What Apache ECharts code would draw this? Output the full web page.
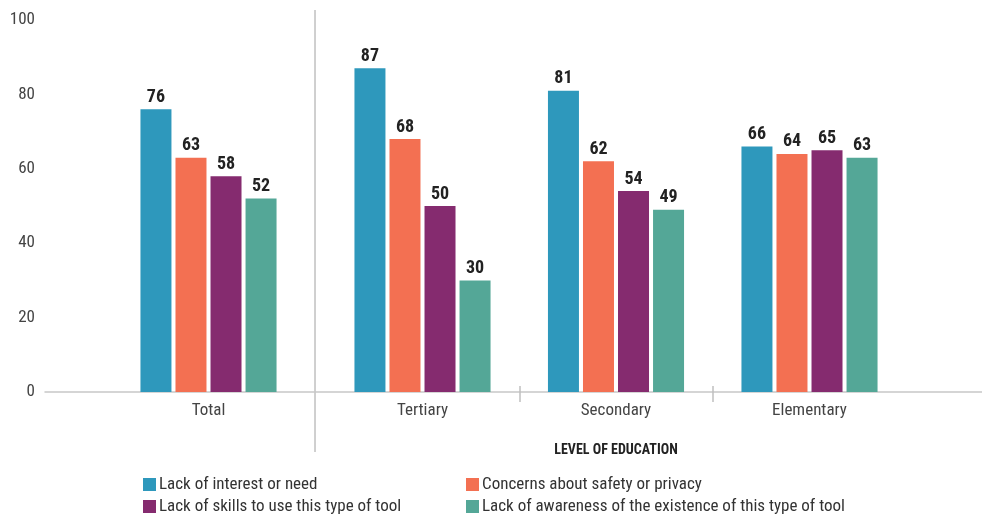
<!DOCTYPE html>
<html>
<head>
<meta charset="utf-8">
<script src="https://cdn.jsdelivr.net/npm/echarts@6/dist/echarts.min.js"></script>
<style>html,body{margin:0;padding:0;background:#fff}#c{width:982px;height:518px}</style>
</head>
<body>
<div id="c"></div>
<script>
const categories = ['Total', 'Tertiary', 'Secondary', 'Elementary'];
const seriesNames = ['Lack of interest or need', 'Concerns about safety or privacy', 'Lack of skills to use this type of tool', 'Lack of awareness of the existence of this type of tool'];
const interest = [76, 87, 81, 66];
const safety = [63, 68, 62, 64];
const skills = [58, 50, 54, 65];
const awareness = [52, 30, 49, 63];
const yTicks = [0, 20, 40, 60, 80, 100];
const axisTitle = 'LEVEL OF EDUCATION';

const FONT = "'Liberation Sans Narrow', 'Roboto Condensed', 'Arial Narrow', Roboto, sans-serif";
const colors = ['#2E98BC', '#F37052', '#852B6F', '#54A797'];
const values = [interest, safety, skills, awareness];
const TOP = 20, BOTTOM = 126;

const chart = echarts.init(document.getElementById('c'));
const series = [];
values.forEach((vals, i) => {
  const common = {
    type: 'bar', name: seriesNames[i], barWidth: 31, barGap: '13%',
    itemStyle: { color: colors[i] },
    label: { show: true, position: 'top', distance: 3, color: '#222', fontFamily: FONT, fontWeight: 'bold', fontSize: 18 },
    emphasis: { disabled: true }
  };
  series.push(Object.assign({}, common, { xAxisIndex: 1, yAxisIndex: 1, data: vals.slice(0, 1) }));
  series.push(Object.assign({}, common, { xAxisIndex: 2, yAxisIndex: 2, data: vals.slice(1) }));
});

const hiddenY = (idx) => ({ type: 'value', gridIndex: idx, min: 0, max: 100, interval: 20, show: false });
const legendPos = [[143, 476], [466, 476], [143, 498], [466, 498]];
const legends = seriesNames.map((n, i) => ({
  orient: 'horizontal', left: legendPos[i][0], top: legendPos[i][1], padding: 0, itemWidth: 13, itemHeight: 13, icon: 'rect',
  data: [n], textStyle: { color: '#333', fontSize: 17, fontFamily: FONT, padding: [0, 0, 0, -2] }
}));
const tickAxis = (inside, len) => ({
  type: 'value', gridIndex: 2, position: 'bottom', min: 0, max: 3, interval: 1, axisLine: { show: false }, axisLabel: { show: false }, splitLine: { show: false },
  axisTick: { show: true, inside: inside, length: len, customValues: [1, 2], lineStyle: { color: '#c0c0c0', width: 1.5 } }
});

chart.setOption({
  animation: false,
  textStyle: { fontFamily: FONT },
  grid: [
    { left: 45, right: 0, top: TOP, bottom: BOTTOM },
    { left: 102, width: 213, top: TOP, bottom: BOTTOM },
    { left: 325.75, width: 580.5, top: TOP, bottom: BOTTOM }
  ],
  xAxis: [
    { type: 'value', gridIndex: 0, min: 0, max: 1, axisLine: { show: true, lineStyle: { color: '#c8c8c8', width: 1.5 } }, axisTick: { show: false }, axisLabel: { show: false }, splitLine: { show: false } },
    { type: 'category', gridIndex: 1, data: categories.slice(0, 1), axisLine: { show: false }, axisTick: { show: false },
      axisLabel: { color: '#444', fontSize: 17, fontFamily: FONT, margin: 10 } },
    { type: 'category', gridIndex: 2, position: 'bottom', data: categories.slice(1), axisLine: { show: false }, axisTick: { show: false },
      axisLabel: { color: '#444', fontSize: 17, fontFamily: FONT, margin: 10 },
      name: axisTitle, nameLocation: 'middle', nameGap: 51,
      nameTextStyle: { color: '#222', fontSize: 14, fontWeight: 'bold', fontFamily: FONT } },
    tickAxis(false, 10),
    tickAxis(true, 6)
  ],
  yAxis: [
    { type: 'value', gridIndex: 0, min: 0, max: 100, interval: 20, axisLine: { show: false }, axisTick: { show: false }, splitLine: { show: false },
      axisLabel: { color: '#444', fontSize: 17, fontFamily: FONT, margin: 10, formatter: (v) => yTicks.includes(v) ? String(v) : '' } },
    hiddenY(1), hiddenY(2)
  ],
  legend: legends,
  graphic: [
    { type: 'line', shape: { x1: 315, y1: 10, x2: 315, y2: 452 }, style: { stroke: '#a0a0a0', lineWidth: 1 } }
  ],
  series: series
});
</script>
</body>
</html>
